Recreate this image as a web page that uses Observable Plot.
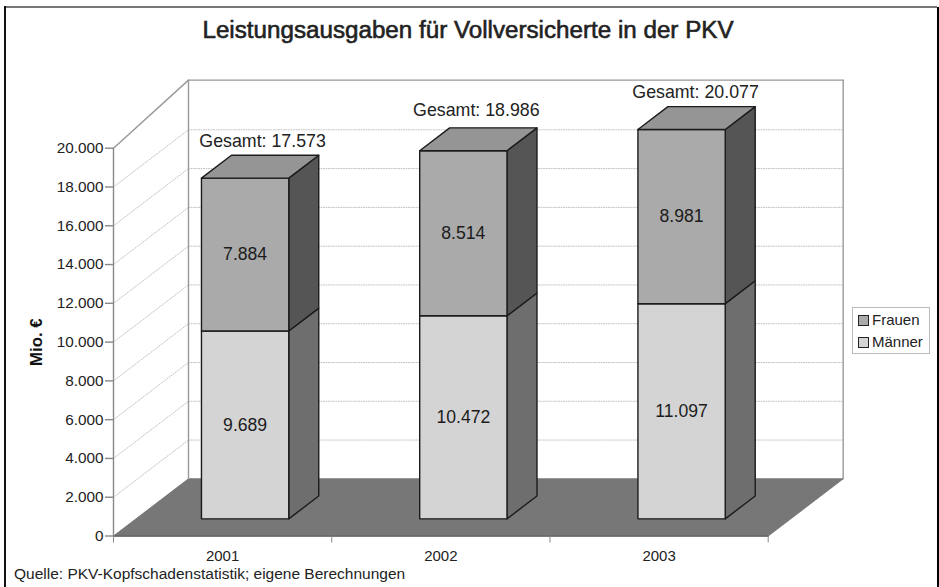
<!DOCTYPE html>
<html lang="de">
<head>
<meta charset="utf-8">
<script src="https://cdn.jsdelivr.net/npm/d3@7"></script>
<script src="https://cdn.jsdelivr.net/npm/@observablehq/plot@0.6"></script>
<style>
  html, body { margin: 0; padding: 0; background: #fff; }
  #chart { position: relative; width: 939px; height: 587px; overflow: hidden; font-family: "Liberation Sans", Arial, sans-serif; color: #222; }
  #chart svg { position: absolute; left: 0; top: 0; }
  .frameT { position: absolute; left: 4px; top: 6px; width: 933px; height: 2px; background: #777; }
  .frameL { position: absolute; left: 4px; top: 6px; width: 1.5px; height: 581px; background: #111; }
  .frameR { position: absolute; left: 937px; top: 7px; width: 2px; height: 580px; background: #000; }
  #title { position: absolute; left: 0; top: 16px; width: 936px; text-align: center; font-size: 24.2px; line-height: 28px; -webkit-text-stroke: 0.6px #222; white-space: nowrap; }
  #source { position: absolute; left: 14px; top: 565px; font-size: 15.5px; line-height: 18px; white-space: nowrap; }
  #legend { position: absolute; left: 852px; top: 307px; width: 76px; height: 44.5px; border: 1px solid #bbb; background: #fff; font-size: 15px; }
  .key { position: absolute; left: 5px; height: 20px; line-height: 20px; white-space: nowrap; padding-left: 14px; }
  .key i { position: absolute; left: 0; top: 4.5px; width: 9px; height: 9px; border: 1px solid #222; }
</style>
</head>
<body>
<div id="chart">
  <div class="frameT"></div><div class="frameL"></div><div class="frameR"></div>
  <div id="title">Leistungsausgaben für Vollversicherte in der PKV</div>
  <div id="source">Quelle: PKV-Kopfschadenstatistik; eigene Berechnungen</div>
  <div id="legend">
    <div class="key" style="top:2px"><i style="background:#aaaaaa"></i>Frauen</div>
    <div class="key" style="top:24px"><i style="background:#d4d4d4"></i>Männer</div>
  </div>
</div>
<script>
const years = ["2001", "2002", "2003"];
const maenner = [9689, 10472, 11097];
const frauen = [7884, 8514, 8981];
const gesamt = [17573, 18986, 20077];
const yTicks = [0, 2000, 4000, 6000, 8000, 10000, 12000, 14000, 16000, 18000, 20000];

// oblique projection of the chart's depth axis, in scale units
const depthX = 0.3436;    // category units at full depth
const depthY = 2948;      // euro units at full depth
const wallTop = 20562;    // the back wall rises slightly above the last gridline
const p = (c, v, d = 0) => ({x: c + d * depthX, y: v + d * depthY});

const de = d3.formatLocale({decimal: ",", thousands: ".", grouping: [3], currency: ["", "€"]}).format(",d");

const poly = (pts, fill, stroke, strokeWidth = 1.4) =>
  Plot.line([...pts, pts[0]], {x: "x", y: "y", fill, stroke, strokeWidth, strokeLinejoin: "round"});
const seg = (a, b, opts) =>
  Plot.line([a, b], {x: "x", y: "y", ...opts});

const wallLine = {stroke: "#999", strokeWidth: 1.4};
const dotted = {stroke: "#c2c2c2", strokeWidth: 1, strokeDasharray: "1,1.5"};
const inner = yTicks.filter((v) => v > 0 && v < 20000);

const barMarks = [];
const cols = {
  m: {front: "#d4d4d4", side: "#6e6e6e"},
  f: {front: "#aaaaaa", side: "#555555", top: "#959595"}
};
const ink = "#1c1c1c";
years.forEach((_, i) => {
  const l = i + 0.3, r = i + 0.7, d0 = 0.3, d1 = 0.7;
  const m = maenner[i], t = maenner[i] + frauen[i];
  barMarks.push(
    poly([p(r, 0, d0), p(r, 0, d1), p(r, m, d1), p(r, m, d0)], cols.m.side, ink),
    poly([p(l, 0, d0), p(r, 0, d0), p(r, m, d0), p(l, m, d0)], cols.m.front, ink),
    poly([p(r, m, d0), p(r, m, d1), p(r, t, d1), p(r, t, d0)], cols.f.side, ink),
    poly([p(l, m, d0), p(r, m, d0), p(r, t, d0), p(l, t, d0)], cols.f.front, ink),
    poly([p(l, t, d0), p(r, t, d0), p(r, t, d1), p(l, t, d1)], cols.f.top, ink)
  );
});

const valueLabels = years.flatMap((_, i) => [
  {c: i + 0.5, v: maenner[i] / 2, t: maenner[i]},
  {c: i + 0.5, v: maenner[i] + frauen[i] / 2, t: frauen[i]}
]).map((d) => ({...p(d.c, d.v, 0.3), t: de(d.t)}));

const totalLift = [-25, -28.5, -25.7];   // pixels above each bar
const totalShift = [2.5, -2, -1];        // pixels sideways
const totalMarks = years.map((_, i) =>
  Plot.text([{...p(i + 0.5, gesamt[i], 0.5), t: "Gesamt: " + de(gesamt[i])}],
    {x: "x", y: "y", text: "t", dx: totalShift[i], dy: totalLift[i], fontSize: 17.8, fill: "#222"}));

const plot = Plot.plot({
  width: 939,
  height: 587,
  marginLeft: 113,
  marginRight: 171.3,
  marginTop: 147.7,
  marginBottom: 51.5,
  style: {background: "transparent", fontFamily: "'Liberation Sans', Arial, sans-serif", color: "#222"},
  x: {type: "linear", domain: [0, 3]},
  y: {type: "linear", domain: [0, 20000]},
  marks: [
    ...inner.map((v) => seg(p(0, v, 0), p(0, v, 1), dotted)),
    ...inner.map((v) => seg(p(0, v, 1), p(3, v, 1), dotted)),
    poly([p(0, 0, 0), p(3, 0, 0), p(3, 0, 1), p(0, 0, 1)], "#777777", "#777777", 1),
    seg(p(0, 0, 1), p(0, wallTop, 1), wallLine),
    seg(p(3, 0, 1), p(3, wallTop, 1), wallLine),
    seg(p(0, wallTop, 1), p(3, wallTop, 1), wallLine),
    seg(p(0, 20000, 0), p(0, wallTop, 1), wallLine),
    seg(p(0, 0, 0), p(3, 0, 0), {stroke: "#666", strokeWidth: 1.4}),
    ...barMarks,
    Plot.ruleX([0], {y1: 0, y2: 20000, stroke: "#888", strokeWidth: 1.4}),
    Plot.axisY({anchor: "left", ticks: yTicks, tickFormat: de, tickSize: 8, tickPadding: 2, stroke: "#888", strokeOpacity: 1, strokeWidth: 1.4, fontSize: 15.3, label: null}),
    Plot.axisX({anchor: "bottom", ticks: [0, 1, 2, 3], tickFormat: () => "", tickSize: 7, stroke: "#888", strokeOpacity: 1, label: null}),
    Plot.axisX({anchor: "bottom", ticks: [0.5, 1.5, 2.5], tickFormat: (d) => years[d - 0.5], tickSize: 0, tickPadding: 14, fontSize: 15, label: null}),
    Plot.text(["Mio. €"], {frameAnchor: "left", textAnchor: "middle", rotate: -90, dx: -77, fontSize: 16.8, fontWeight: "bold", fill: "#111"}),
    Plot.text(valueLabels, {x: "x", y: "y", text: "t", fontSize: 17.6, fill: "#1c1c1c"}),
    ...totalMarks
  ]
});
document.getElementById("chart").prepend(plot);
</script>
</body>
</html>
